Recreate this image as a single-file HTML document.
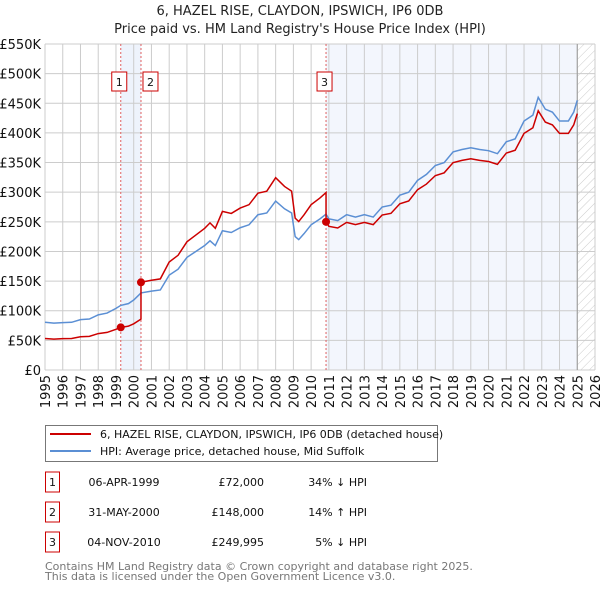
<!DOCTYPE html>
<html><head><meta charset="utf-8">
<style>
body{margin:0;background:#fff;font-family:"DejaVu Sans","Liberation Sans",sans-serif;}
svg text{font-family:"DejaVu Sans","Liberation Sans",sans-serif;}
</style></head>
<body>
<svg id="c" width="600" height="590" xmlns="http://www.w3.org/2000/svg">
<defs>
<pattern id="hatch" width="6" height="6" patternUnits="userSpaceOnUse" patternTransform="rotate(45)">
<line x1="0" y1="0" x2="0" y2="6" stroke="#ccc" stroke-width="1"/>
</pattern>
</defs>
<text x="300" y="15" text-anchor="middle" font-size="13" fill="#222">6, HAZEL RISE, CLAYDON, IPSWICH, IP6 0DB</text>
<text x="300" y="33" text-anchor="middle" font-size="13" fill="#222">Price paid vs. HM Land Registry's House Price Index (HPI)</text>
<g id="plot"></g>
<g>
<rect x="45.5" y="425.5" width="392" height="36" fill="#fff" stroke="#777"/>
<line x1="50" y1="434" x2="91" y2="434" stroke="#cc0000" stroke-width="2"/>
<text x="100" y="438" font-size="11" fill="#111">6, HAZEL RISE, CLAYDON, IPSWICH, IP6 0DB (detached house)</text>
<line x1="50" y1="451" x2="91" y2="451" stroke="#5b8fd4" stroke-width="2"/>
<text x="100" y="455" font-size="11" fill="#111">HPI: Average price, detached house, Mid Suffolk</text>
</g>
<g id="table" font-size="11" fill="#111"></g>
<text x="45" y="570" font-size="11" fill="#777">Contains HM Land Registry data © Crown copyright and database right 2025.</text>
<text x="45" y="580" font-size="11" fill="#777">This data is licensed under the Open Government Licence v3.0.</text>
</svg>
<script>
const hpiYears=[1995,1995.5,1996,1996.5,1997,1997.5,1998,1998.5,1999,1999.27,1999.7,2000,2000.41,2001,2001.5,2002,2002.5,2003,2003.5,2004,2004.3,2004.6,2005,2005.5,2006,2006.5,2007,2007.5,2008,2008.5,2008.9,2009.1,2009.3,2009.6,2010,2010.5,2010.84,2011,2011.5,2012,2012.5,2013,2013.5,2014,2014.5,2015,2015.5,2016,2016.5,2017,2017.5,2018,2018.5,2019,2019.5,2020,2020.5,2021,2021.5,2022,2022.5,2022.8,2023.2,2023.6,2024,2024.5,2024.8,2025.0];
const hpiValues=[80500,79000,80000,80500,85000,86000,93000,96000,104000,109000,112000,118000,130000,133000,135000,160000,170000,190000,200000,210000,218000,210000,235000,232000,240000,245000,262000,265000,285000,272000,265000,225000,220000,230000,245000,255000,263000,255000,252000,262000,258000,262000,258000,275000,278000,295000,300000,320000,330000,345000,350000,368000,372000,375000,372000,370000,365000,385000,390000,420000,430000,460000,440000,435000,420000,420000,435000,455000];
const saleDates=[1999.27,2000.41,2010.84];
const salePrices=[72000,148000,249995];
const saleLabels=["06-APR-1999","31-MAY-2000","04-NOV-2010"];
const salePriceText=["£72,000","£148,000","£249,995"];
const saleHpiText=["34% ↓ HPI","14% ↑ HPI","5% ↓ HPI"];
const yTicks=[0,50000,100000,150000,200000,250000,300000,350000,400000,450000,500000,550000];
const yTickLabels=["£0","£50K","£100K","£150K","£200K","£250K","£300K","£350K","£400K","£450K","£500K","£550K"];
const xTicks=[1995,1996,1997,1998,1999,2000,2001,2002,2003,2004,2005,2006,2007,2008,2009,2010,2011,2012,2013,2014,2015,2016,2017,2018,2019,2020,2021,2022,2023,2024,2025,2026];

const X0=45,X1=595,Y0=370,Y1=44,XMIN=1995,XMAX=2026,YMAX=550000,DATA_END=2025.0;
const sx=t=>X0+(t-XMIN)/(XMAX-XMIN)*(X1-X0);
const sy=v=>Y0-v/YMAX*(Y0-Y1);
const NS="http://www.w3.org/2000/svg";
const plot=document.getElementById('plot');
function mk(tag,attrs,parent){const e=document.createElementNS(NS,tag);for(const k in attrs)e.setAttribute(k,attrs[k]);(parent||plot).appendChild(e);return e;}
function hpiAt(t){for(let i=0;i<hpiYears.length-1;i++){if(t>=hpiYears[i]&&t<=hpiYears[i+1]){const f=(t-hpiYears[i])/(hpiYears[i+1]-hpiYears[i]);return hpiValues[i]+f*(hpiValues[i+1]-hpiValues[i]);}}return hpiValues[hpiValues.length-1];}

// shading
let s1=mk('rect',{x:sx(saleDates[0]),y:Y1,width:sx(saleDates[1])-sx(saleDates[0]),height:Y0-Y1,fill:'#eef3fc'});


let s2=mk('rect',{x:sx(saleDates[2]),y:Y1,width:sx(DATA_END)-sx(saleDates[2]),height:Y0-Y1,fill:'#f3f6fd'});


let hz=mk('rect',{x:sx(DATA_END),y:Y1,width:X1-sx(DATA_END),height:Y0-Y1,fill:'url(#hatch)'});



// grid
yTicks.forEach((v,i)=>{
  let l=mk('line',{x1:X0,x2:X1,y1:sy(v),y2:sy(v),stroke:'#ccc','stroke-width':1});
  
  
  let t=mk('text',{x:X0-4,y:sy(v)+5,'text-anchor':'end','font-size':13,fill:'#111'});
  t.textContent=yTickLabels[i];
  
  
});
xTicks.forEach(yr=>{
  let l=mk('line',{x1:sx(yr),x2:sx(yr),y1:Y1,y2:Y0,stroke:'#ccc','stroke-width':1});
  
  
  let t=mk('text',{x:0,y:0,'text-anchor':'end','font-size':13,fill:'#111',transform:`translate(${sx(yr)+5},${Y0+5}) rotate(-90)`});
  t.textContent=yr;
  
  
});
let vl=mk('line',{x1:sx(DATA_END),x2:sx(DATA_END),y1:Y1,y2:Y0,stroke:'#999','stroke-width':1});



// sale markers lines
saleDates.forEach((d,i)=>{
  let l=mk('line',{x1:sx(d),x2:sx(d),y1:Y1,y2:Y0,stroke:'#e06060','stroke-width':1,'stroke-dasharray':'2,2'});
  
  
  let bx=[sx(d)-9,sx(d)+2,sx(d)-9][i];
  let r=mk('rect',{x:bx,y:72,width:15,height:19,fill:'#fff',stroke:'#cc0000','stroke-width':1});
  
  
  let t=mk('text',{x:bx+7.5,y:86,'text-anchor':'middle','font-size':11,fill:'#111'});
  t.textContent=String(i+1);
  
  
});

// HPI line
let hp=mk('polyline',{points:hpiYears.map((t,i)=>sx(t)+','+sy(hpiValues[i])).join(' '),fill:'none',stroke:'#5b8fd4','stroke-width':1.5});



// property line: HPI scaled by most recent sale
const factors=saleDates.map((d,i)=>salePrices[i]/hpiAt(d));
let pts=[];
hpiYears.forEach((t,i)=>{
  let k=0;for(let j=0;j<saleDates.length;j++)if(t>saleDates[j]+1e-9)k=j;
  if(t<=saleDates[0])k=0;
  pts.push([t,hpiValues[i]*factors[k]]);
});
saleDates.forEach((d,j)=>{ if(j>0){pts.push([d+0.0001,salePrices[j]]);pts.push([d,hpiAt(d)*factors[j-1]]);} });
pts.sort((a,b)=>a[0]-b[0]);
let pp=mk('polyline',{points:pts.map(p=>sx(p[0])+','+sy(p[1])).join(' '),fill:'none',stroke:'#cc0000','stroke-width':1.5});


saleDates.forEach((d,i)=>{
  let c=mk('circle',{cx:sx(d),cy:sy(salePrices[i]),r:4,fill:'#cc0000'});
  
  
});

// table
const tb=document.getElementById('table');
saleDates.forEach((d,i)=>{
  const y=483+i*30;
  let r=mk('rect',{x:45.5,y:y-11,width:14,height:20,fill:'#fff',stroke:'#cc0000'},tb);
  
  
  let n=mk('text',{x:52.5,y:y+3,'text-anchor':'middle'},tb);n.textContent=String(i+1);
  
  
  let a=mk('text',{x:124,y:y+3,'text-anchor':'middle'},tb);a.textContent=saleLabels[i];
  
  
  let b=mk('text',{x:264,y:y+3,'text-anchor':'end'},tb);b.textContent=salePriceText[i];
  
  
  let c=mk('text',{x:367,y:y+3,'text-anchor':'end'},tb);c.textContent=saleHpiText[i];
  
  
});
</script>
</body></html>
